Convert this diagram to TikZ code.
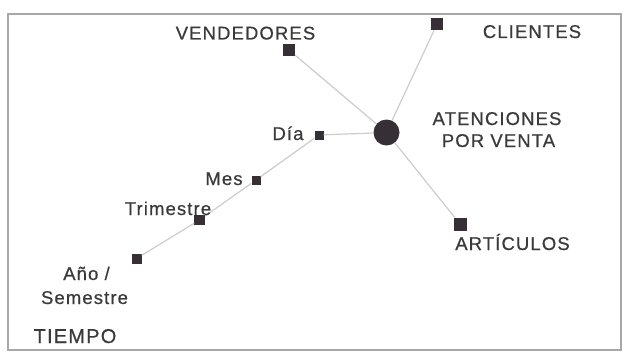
\documentclass[tikz,border=0pt]{standalone}
\usepackage{fontspec}
\setmainfont{Liberation Sans}[LetterSpace=6,FakeBold=0.6]
\definecolor{txt}{HTML}{3A3A3A}
\definecolor{sq}{HTML}{363036}
\definecolor{ln}{HTML}{CCCCCC}
\definecolor{frm}{HTML}{A8A8A8}
\begin{document}
\begin{tikzpicture}[x=1pt,y=-1pt,
  lbl/.style={text=txt,font=\fontsize{18.5}{21}\selectfont,inner sep=0pt,anchor=base},
  bigsq/.style={rectangle,fill=sq,inner sep=0pt,minimum size=12pt},
  smsq/.style={rectangle,fill=sq,inner sep=0pt,minimum size=9pt},
  conn/.style={draw=ln,line width=1.2pt}]
\useasboundingbox (0,0) rectangle (627,353);
\draw[frm,line width=1.5pt] (8,14) rectangle (621,350);
% nodes
\node[circle,fill=sq,minimum size=26pt,inner sep=0pt] (fact) at (386.5,132.5) {};
\node[bigsq] (vend) at (289,50) {};
\node[bigsq] (cli) at (437,24) {};
\node[bigsq,minimum size=13pt] (art) at (460,224) {};
\node[smsq] (dia) at (319,135) {};
\node[smsq] (mes) at (256,180) {};
\node[smsq,minimum size=10.5pt] (tri) at (199.5,220) {};
\node[smsq,minimum size=10pt] (ano) at (136.5,258.5) {};
% connectors
\draw[conn] (vend) -- (fact);
\draw[conn] (cli) -- (fact);
\draw[conn] (art) -- (fact);
\draw[conn] (dia) -- (fact);
\draw[conn] (ano) -- (tri);
\draw[conn] (tri) -- (mes);
\draw[conn] (mes) -- (dia);
% labels
\node[lbl] (lvend) at (245.5,39.5) {VENDEDORES};
\node[lbl] (lcli) at (532,38) {CLIENTES};
\node[lbl] (lat1) at (497,125) {ATENCIONES};
\node[lbl] (lat2) at (498.5,147) {POR VENTA};
\node[lbl] (lart) at (512.5,250) {ARTÍCULOS};
\node[lbl] (ldia) at (288,140) {Día};
\node[lbl] (lmes) at (224,185) {Mes};
\node[lbl] (ltri) at (168,215) {Trimestre};
\node[lbl] (lano1) at (86.5,280) {Año /};
\node[lbl] (lano2) at (84.5,304) {Semestre};
\node[lbl,font=\fontsize{20}{22}\selectfont] (ltiempo) at (75,343) {TIEMPO};
\end{tikzpicture}
\end{document}
